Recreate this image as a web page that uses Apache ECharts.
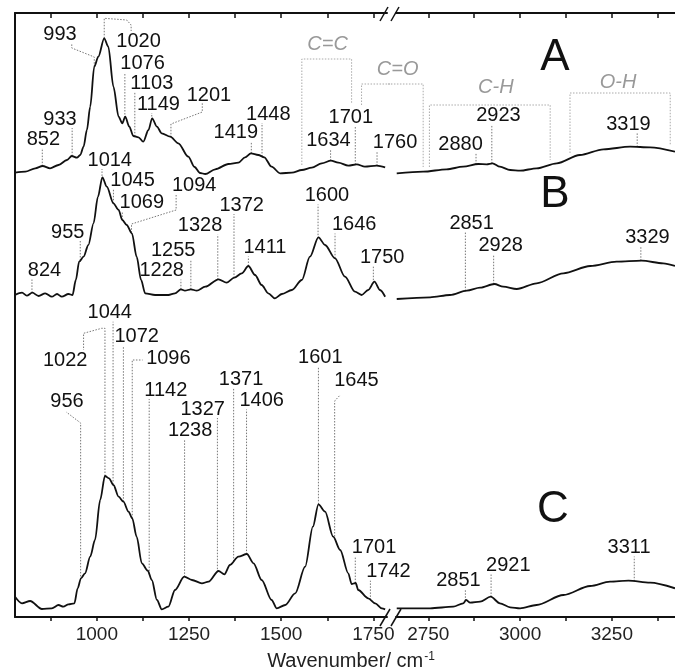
<!DOCTYPE html>
<html>
<head>
<meta charset="utf-8">
<script src="https://cdn.jsdelivr.net/npm/echarts@6/dist/echarts.min.js"></script>
<style>
html, body { margin: 0; padding: 0; background: #fff; }
#main { width: 675px; height: 671px; }
</style>
</head>
<body>
<div id="main"></div>
<script>
// FTIR spectra A, B, C: [wavenumber, relative absorbance above each trace's baseline]
var aLeft = [[778,2.3],[806,3.3],[833,6.7],[853,9],[873,6.7],[896,10],[919,15],[932,19],[946,17.3],[955,20],[964,28.3],[973,45],[982,68.3],[993,108.3],[1004,118.3],[1020,136.7],[1031,128.3],[1045,88.3],[1059,58.3],[1069,51.7],[1077,58.3],[1088,48.3],[1099,39],[1113,37.7],[1126,33.3],[1140,45],[1150,56.7],[1163,48.3],[1176,41.7],[1199,38.3],[1221,31.7],[1248,18.3],[1265,8],[1280,2],[1294,1],[1321,5.7],[1357,11],[1384,12.3],[1402,17.7],[1418,21.7],[1438,20],[1454,17.7],[1474,8.3],[1497,1.7],[1529,2.3],[1556,5],[1583,7.3],[1610,11.7],[1635,14.3],[1655,12.3],[1682,9.3],[1705,10.7],[1727,8.3],[1759,9.3],[1782,7.7]];
var aRight = [[2664,1.7],[2736,3.3],[2800,5.7],[2845,8.3],[2886,11],[2909,10.7],[2925,11.7],[2945,8.3],[2973,5],[3000,4.3],[3045,6.7],[3100,11.7],[3163,20],[3227,25.7],[3300,28.3],[3354,27.7],[3422,23.3]];

var bLeft = [[778,4],[797,6.3],[810,3.3],[825,6.3],[842,3],[860,5.7],[878,2.3],[892,5],[905,2.3],[923,5],[934,4],[943,19],[952,37.3],[964,42.3],[977,54],[991,75.7],[1003,102.3],[1015,121.7],[1027,112.3],[1045,95.7],[1059,89],[1069,79],[1081,74],[1095,65.7],[1108,42.3],[1120,19],[1131,5.7],[1158,4],[1194,4],[1212,5.7],[1228,9.7],[1239,8.3],[1255,9.7],[1271,8.3],[1294,12.3],[1330,19.7],[1352,16.3],[1373,21.3],[1393,25.7],[1411,33],[1429,24],[1447,14],[1465,5.7],[1483,0.7],[1502,5],[1529,9],[1556,19],[1578,42.3],[1601,61.7],[1619,54],[1646,40.7],[1673,22.3],[1700,7.3],[1718,4],[1736,9],[1753,17.3],[1768,9],[1782,2.3]];
var bRight = [[2664,0],[2755,1.7],[2809,4],[2855,8.3],[2891,11.3],[2930,15],[2954,12.3],[2991,10],[3045,15.7],[3118,25.7],[3191,33],[3263,37.3],[3331,38.3],[3390,35.7],[3422,33]];

var cLeft = [[778,13.3],[797,6.7],[819,9],[851,1],[878,1.7],[896,5],[909,3.3],[923,5.7],[939,6.7],[948,21.7],[957,31.7],[968,36.7],[982,53.3],[995,70],[1009,110],[1022,134],[1033,131.7],[1045,125],[1059,113.3],[1072,108.3],[1086,98.3],[1096,91.7],[1108,73.3],[1122,46.7],[1138,39.3],[1149,30],[1163,10],[1176,0.7],[1194,3.3],[1212,20],[1237,33.3],[1258,30],[1285,26.7],[1303,28.3],[1330,39],[1346,35.7],[1361,45],[1384,53.3],[1407,56],[1425,46.7],[1447,30],[1474,10],[1488,1.7],[1511,5],[1538,16.7],[1565,43.3],[1586,83.3],[1601,105.7],[1619,98.3],[1641,73.3],[1660,60],[1682,36.7],[1691,26],[1702,27],[1709,20],[1736,11.7],[1755,6.7],[1773,1.7],[1782,0.7]];
var cRight = [[2664,1.7],[2755,1.7],[2818,3.3],[2845,6.7],[2853,10],[2864,7.3],[2891,8.3],[2920,13.3],[2945,6.7],[2973,2.7],[3000,1.7],[3045,5],[3118,15],[3191,24],[3245,28.3],[3295,29.3],[3354,27.3],[3422,21.7]];

// vertical stacking of the three traces
var offA = 442, offB = 318, offC = 7;

var ticksLeft = [875, 1000, 1125, 1250, 1375, 1500, 1625, 1750];
var labelsLeft = [1000, 1250, 1500, 1750];
var ticksRight = [2750, 2875, 3000, 3125, 3250, 3375];
var labelsRight = [2750, 3000, 3250];

// peak labels: p = band, tr = trace, (lx, ly) = label centre, via = bent leader
var peaksLeft = [
  {p: 852, tr: 'A', lx: 855, ly: 478},
  {p: 933, tr: 'A', lx: 900, ly: 498},
  {p: 993, tr: 'A', lx: 900, ly: 583, via: [[993, 560], [932, 569], [932, 574]]},
  {p: 1020, tr: 'A', lx: 1113, ly: 575.5, via: [[1020, 598.7], [1081, 597], [1093, 592], [1093, 586]]},
  {p: 1076, tr: 'A', lx: 1124, ly: 553.5},
  {p: 1103, tr: 'A', lx: 1149, ly: 533.5},
  {p: 1149, tr: 'A', lx: 1167, ly: 513},
  {p: 1201, tr: 'A', lx: 1304, ly: 522, via: [[1201, 493], [1286, 505], [1286, 514]]},
  {p: 1419, tr: 'A', lx: 1377, ly: 484.5},
  {p: 1448, tr: 'A', lx: 1465, ly: 503},
  {p: 1634, tr: 'A', lx: 1628, ly: 476.5},
  {p: 1701, tr: 'A', lx: 1689, ly: 499.5},
  {p: 1760, tr: 'A', lx: 1809, ly: 475},

  {p: 824, tr: 'B', lx: 858, ly: 346.5},
  {p: 955, tr: 'B', lx: 921, ly: 385},
  {p: 1014, tr: 'B', lx: 1035, ly: 457},
  {p: 1045, tr: 'B', lx: 1097, ly: 436.5},
  {p: 1069, tr: 'B', lx: 1122, ly: 414.5},
  {p: 1094, tr: 'B', lx: 1264, ly: 431.5, via: [[1094, 393], [1215, 407], [1215, 422]]},
  {p: 1228, tr: 'B', lx: 1176, ly: 346.5},
  {p: 1255, tr: 'B', lx: 1207, ly: 366.5},
  {p: 1328, tr: 'B', lx: 1280, ly: 391.5},
  {p: 1372, tr: 'B', lx: 1393, ly: 412},
  {p: 1411, tr: 'B', lx: 1456, ly: 369.5},
  {p: 1600, tr: 'B', lx: 1624, ly: 421.5},
  {p: 1646, tr: 'B', lx: 1698, ly: 392.5},
  {p: 1750, tr: 'B', lx: 1774, ly: 359.5},

  {p: 956, tr: 'C', lx: 919, ly: 215.3, via: [[956, 194], [917, 205]]},
  {p: 1022, tr: 'C', lx: 914, ly: 256.5, via: [[1022, 288.7], [1013, 288.7], [964, 283.7], [964, 267]]},
  {p: 1044, tr: 'C', lx: 1035, ly: 304.3},
  {p: 1072, tr: 'C', lx: 1108, ly: 280.3},
  {p: 1096, tr: 'C', lx: 1194, ly: 258.7, via: [[1096, 257], [1124, 257]]},
  {p: 1142, tr: 'C', lx: 1187, ly: 227},
  {p: 1238, tr: 'C', lx: 1253, ly: 187},
  {p: 1327, tr: 'C', lx: 1287, ly: 208},
  {p: 1371, tr: 'C', lx: 1391, ly: 237.5},
  {p: 1406, tr: 'C', lx: 1447, ly: 216.5},
  {p: 1601, tr: 'C', lx: 1606, ly: 259.5},
  {p: 1645, tr: 'C', lx: 1704, ly: 237, via: [[1645, 216], [1660, 222]]},
  {p: 1701, tr: 'C', lx: 1752, ly: 69.5},
  {p: 1742, tr: 'C', lx: 1791, ly: 45.3}
];
var peaksRight = [
  {p: 2880, tr: 'A', lx: 2838, ly: 473},
  {p: 2923, tr: 'A', lx: 2941, ly: 501.2},
  {p: 3319, tr: 'A', lx: 3295, ly: 493},
  {p: 2851, tr: 'B', lx: 2868, ly: 394},
  {p: 2928, tr: 'B', lx: 2947, ly: 371.5},
  {p: 3329, tr: 'B', lx: 3347, ly: 379.5},
  {p: 2851, tr: 'C', lx: 2832, ly: 36.5},
  {p: 2921, tr: 'C', lx: 2968, ly: 51.5},
  {p: 3311, tr: 'C', lx: 3297, ly: 69.5}
];

// band-group brackets over trace A
var groupsLeft = [
  {t: 'C=C', lx: 1626, ly: 573, pts: [[1556, 452], [1556, 558], [1691, 558], [1691, 514]]},
  {t: 'C=O', lx: 1816, ly: 548, pts: [[1718, 512], [1718, 533], [1800, 533]]}
];
var groupsRight = [
  {t: '', pts: [[2640, 533], [2736, 533], [2736, 450]]},
  {t: 'C-H', lx: 2934, ly: 529.5, pts: [[2753, 450], [2753, 512], [3082, 512], [3082, 457]]},
  {t: 'O-H', lx: 3267, ly: 535, pts: [[3136, 464], [3136, 524], [3409, 524], [3409, 472]]}
];

var traces = {
  A: {l: aLeft, r: aRight, off: offA},
  B: {l: bLeft, r: bRight, off: offB},
  C: {l: cLeft, r: cRight, off: offC}
};

var FONT = '"Liberation Sans", Arial, sans-serif';

function curveAt(arr, off, x) {
  for (var i = 1; i < arr.length; i++) {
    if (arr[i][0] >= x) {
      var a = arr[i - 1], b = arr[i];
      var t = (x - a[0]) / (b[0] - a[0]);
      return a[1] + t * (b[1] - a[1]) + off;
    }
  }
  return arr[arr.length - 1][1] + off;
}

function lineSeries(data, off, xi, yi) {
  return {
    type: 'line', xAxisIndex: xi, yAxisIndex: yi,
    data: data.map(function (d) { return [d[0], d[1] + off]; }),
    showSymbol: false, smooth: 0.3, smoothMonotone: 'x', silent: true, z: 5,
    lineStyle: {color: '#111', width: 1.8}
  };
}

function peakSeries(list, side, xi, yi) {
  return {
    type: 'custom', xAxisIndex: xi, yAxisIndex: yi, clip: false, silent: true, z: 3,
    data: list.map(function (a) { return [a.lx, a.ly]; }),
    renderItem: function (params, api) {
      var a = list[params.dataIndex];
      var tr = traces[a.tr];
      var pts = [api.coord([a.p, curveAt(side === 'l' ? tr.l : tr.r, tr.off, a.p)])];
      if (a.via) {
        a.via.forEach(function (v) { pts.push(api.coord(v)); });
      } else {
        pts.push(api.coord([a.p, a.ly - 9]));
      }
      var c = api.coord([a.lx, a.ly]);
      return {
        type: 'group',
        children: [
          {type: 'polyline', shape: {points: pts},
           style: {stroke: '#777', lineWidth: 1, lineDash: [1.5, 1.5], fill: null}},
          {type: 'text', x: c[0], y: c[1],
           style: {text: String(a.p), font: '20px ' + FONT, fill: '#111', align: 'center', verticalAlign: 'middle'}}
        ]
      };
    }
  };
}

function groupSeries(list, xi, yi) {
  return {
    type: 'custom', xAxisIndex: xi, yAxisIndex: yi, clip: false, silent: true, z: 2,
    data: list.map(function (g) { return g.pts[0]; }),
    renderItem: function (params, api) {
      var g = list[params.dataIndex];
      var kids = [{
        type: 'polyline', shape: {points: g.pts.map(function (p) { return api.coord(p); })},
        style: {stroke: '#aaa', lineWidth: 1, lineDash: [1.5, 1.5], fill: null}
      }];
      if (g.t) {
        var c = api.coord([g.lx, g.ly]);
        kids.push({type: 'text', x: c[0], y: c[1],
          style: {text: g.t, font: 'italic 20px ' + FONT, fill: '#999', align: 'center', verticalAlign: 'middle'}});
      }
      return {type: 'group', children: kids};
    }
  };
}

function xAxisOf(grid, pos, min, max, ticks, labels) {
  var bottom = pos === 'bottom';
  return {
    type: 'value', gridIndex: grid, position: pos, min: min, max: max,
    splitLine: {show: false},
    axisLine: {onZero: false, lineStyle: {color: '#111', width: 2}},
    axisTick: {customValues: ticks, inside: !bottom, length: bottom ? 4 : 5, lineStyle: {color: '#111', width: 1.5}},
    axisLabel: bottom
      ? {customValues: labels, color: '#222', fontSize: 19, fontFamily: FONT, margin: 8,
         formatter: function (v) { return String(v); }}
      : {show: false}
  };
}

var chart = echarts.init(document.getElementById('main'));

chart.setOption({
  animation: false,
  backgroundColor: '#fff',
  grid: [
    {left: 15, top: 13, width: 372, height: 604},
    {left: 396, top: 13, width: 279, height: 604}
  ],
  xAxis: [
    xAxisOf(0, 'bottom', 778, 1787, ticksLeft, labelsLeft),
    xAxisOf(0, 'top', 778, 1787, ticksLeft, labelsLeft),
    xAxisOf(1, 'bottom', 2662, 3422, ticksRight, labelsRight),
    xAxisOf(1, 'top', 2662, 3422, ticksRight, labelsRight)
  ],
  yAxis: [
    {type: 'value', gridIndex: 0, min: 0, max: 604, splitLine: {show: false},
     axisLine: {show: true, onZero: false, lineStyle: {color: '#111', width: 2}},
     axisTick: {show: false}, axisLabel: {show: false}},
    {type: 'value', gridIndex: 1, min: 0, max: 604, show: false}
  ],
  series: [
    lineSeries(aLeft, offA, 0, 0), lineSeries(aRight, offA, 2, 1),
    lineSeries(bLeft, offB, 0, 0), lineSeries(bRight, offB, 2, 1),
    lineSeries(cLeft, offC, 0, 0), lineSeries(cRight, offC, 2, 1),
    groupSeries(groupsLeft, 0, 0), groupSeries(groupsRight, 2, 1),
    peakSeries(peaksLeft, 'l', 0, 0), peakSeries(peaksRight, 'r', 2, 1)
  ],
  graphic: [
    {type: 'line', shape: {x1: 380, y1: 626, x2: 390, y2: 609}, style: {stroke: '#111', lineWidth: 1.5}},
    {type: 'line', shape: {x1: 391, y1: 626, x2: 401, y2: 609}, style: {stroke: '#111', lineWidth: 1.5}},
    {type: 'line', shape: {x1: 380, y1: 21, x2: 388, y2: 7}, style: {stroke: '#111', lineWidth: 1.5}},
    {type: 'line', shape: {x1: 391, y1: 21, x2: 399, y2: 7}, style: {stroke: '#111', lineWidth: 1.5}},
    {type: 'text', x: 555, y: 58, style: {text: 'A', font: '44px ' + FONT, fill: '#111', align: 'center', verticalAlign: 'middle'}},
    {type: 'text', x: 555, y: 195, style: {text: 'B', font: '44px ' + FONT, fill: '#111', align: 'center', verticalAlign: 'middle'}},
    {type: 'text', x: 553, y: 510, style: {text: 'C', font: '44px ' + FONT, fill: '#111', align: 'center', verticalAlign: 'middle'}},
    {type: 'text', x: 351, y: 661, style: {
      text: 'Wavenumber/ cm{s|-1}', font: '20px ' + FONT, fill: '#222',
      align: 'center', verticalAlign: 'middle',
      rich: {s: {fontSize: 12, fontFamily: FONT, fill: '#222', verticalAlign: 'top', padding: [0, 0, 8, 1]}}
    }}
  ]
});
</script>
</body>
</html>
